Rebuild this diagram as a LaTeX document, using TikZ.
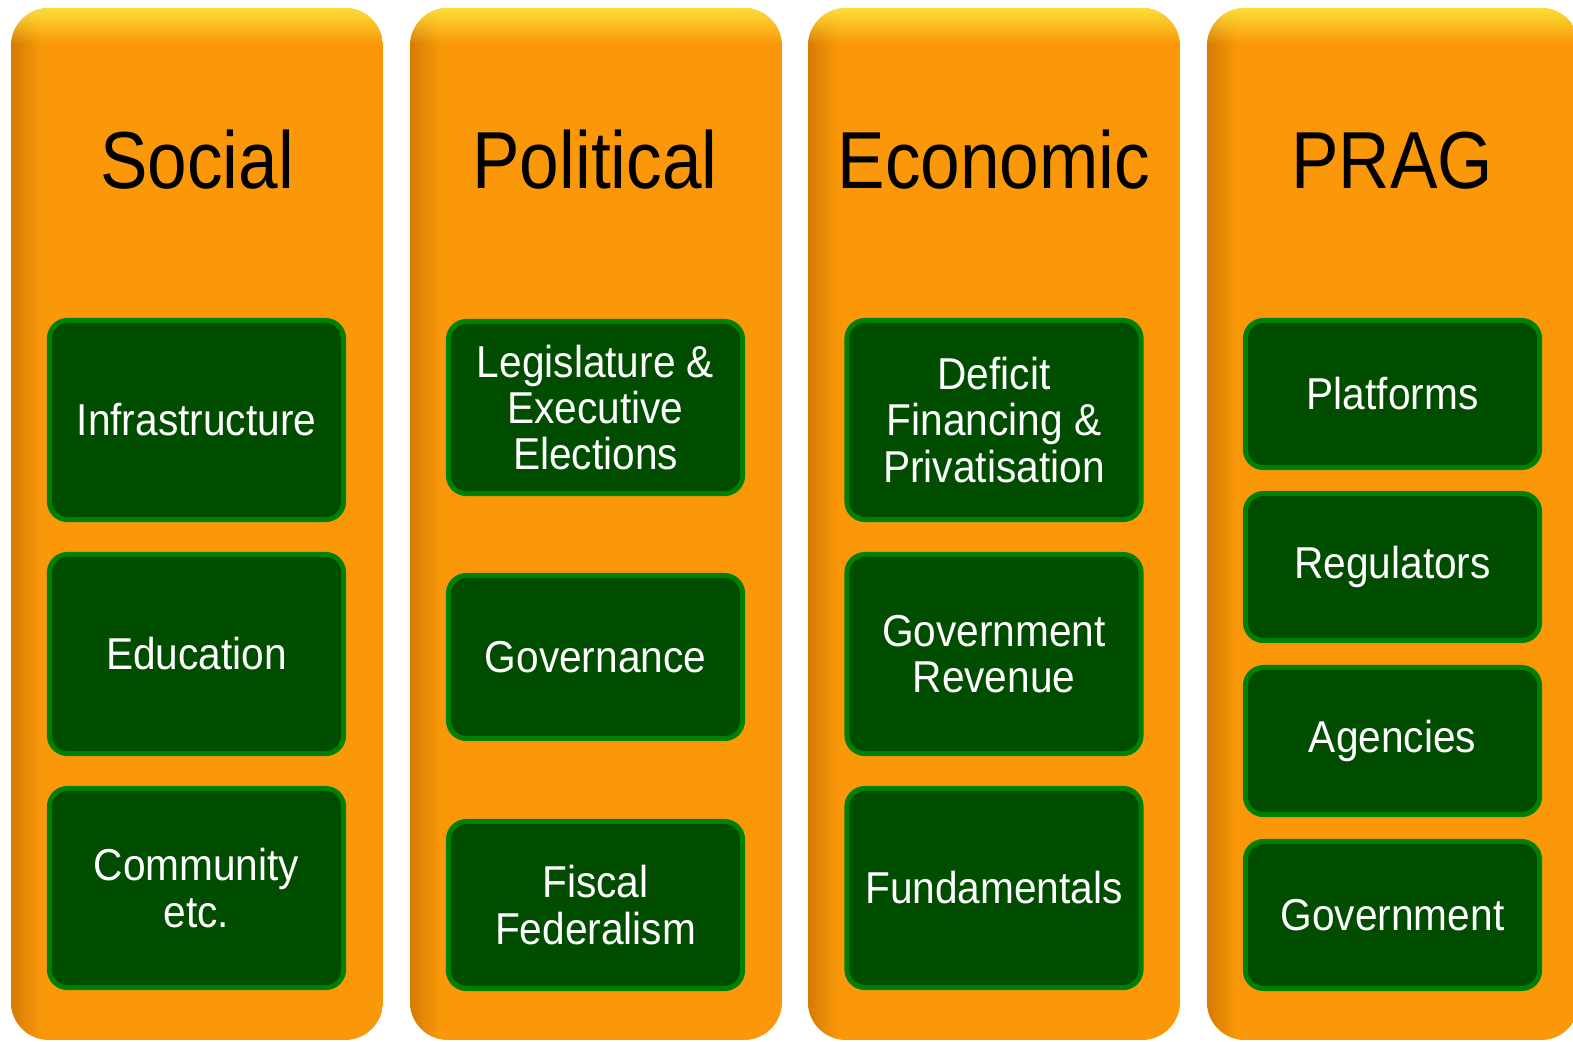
\documentclass[tikz,border=0pt]{standalone}
\usepackage{fontspec}
\setmainfont{Liberation Sans}
\newfontfamily\headfont{Liberation Sans}[FakeStretch=0.88]
\newfontfamily\boxfont{Liberation Sans}[FakeStretch=0.91]
\usepackage{tikz}
\usetikzlibrary{fadings}
\usepackage{xcolor}

\definecolor{pillarorange}{RGB}{250,152,10}
\definecolor{pillartop}{RGB}{252,222,56}
\definecolor{pillarside}{RGB}{214,124,4}
\definecolor{itemfill}{RGB}{0,77,0}
\definecolor{itemedge}{RGB}{0,128,0}

% one orange column, #1 = left edge
\newcommand{\pillar}[1]{%
  \begin{scope}
    \clip[rounded corners=0.38cm] (#1,8) rectangle ++(372,1032);
    \fill[pillarorange] (#1,8) rectangle ++(372,1032);
    \fill[pillarside, path fading=east] (#1,8) rectangle ++(30,1032);
    \fill[pillartop, path fading=south] (#1,8) rectangle ++(372,36);
  \end{scope}}

\begin{document}
\begin{tikzpicture}[
            x = 0.01cm, y = -0.01cm, % one unit is one pixel
            head/.style = {font=\headfont\fontsize{23}{26}\selectfont, anchor=base},
            item/.style = {draw=itemedge, fill=itemfill, line width=0.05cm,
                           rounded corners=0.18cm, text=white, align=center,
                           font=\boxfont\fontsize{12.7}{13.2}\selectfont,
                           inner sep=0pt, minimum width=2.94cm}
        ]
\useasboundingbox (0,0) rectangle (1573,1041);
\clip (0,0) rectangle (1573,1041);

\pillar{11}
\pillar{410}
\pillar{808}
\pillar{1207}

\node[head] (social) at (197,188) {Social};
\node[head] (political) at (595,188) {Political};
\node[head] (economic) at (994,188) {Economic};
\node[head] (prag) at (1392,188) {PRAG};

\node[item, minimum height=1.99cm] (infra) at (196.5,420) {Infrastructure};
\node[item, minimum height=1.99cm] (edu) at (196.5,654) {Education};
\node[item, minimum height=1.99cm] (comm) at (196.5,888) {Community\\etc.};

\node[item, minimum height=1.72cm] (elect) at (595.5,407.5) {Legislature \&\\Executive\\Elections};
\node[item, minimum height=1.63cm] (gov) at (595.5,657) {Governance};
\node[item, minimum height=1.67cm] (fisc) at (595.5,905) {Fiscal\\Federalism};

\node[item, minimum height=1.99cm] (deficit) at (994,420) {Deficit\\Financing \&\\Privatisation};
\node[item, minimum height=1.99cm] (revenue) at (994,654) {Government\\Revenue};
\node[item, minimum height=1.99cm] (fund) at (994,888) {Fundamentals};

\node[item, minimum height=1.47cm] (plat) at (1392.5,394) {Platforms};
\node[item, minimum height=1.47cm] (reg) at (1392.5,567) {Regulators};
\node[item, minimum height=1.47cm] (agen) at (1392.5,741) {Agencies};
\node[item, minimum height=1.47cm] (govt) at (1392.5,915) {Government};
\end{tikzpicture}
\end{document}
